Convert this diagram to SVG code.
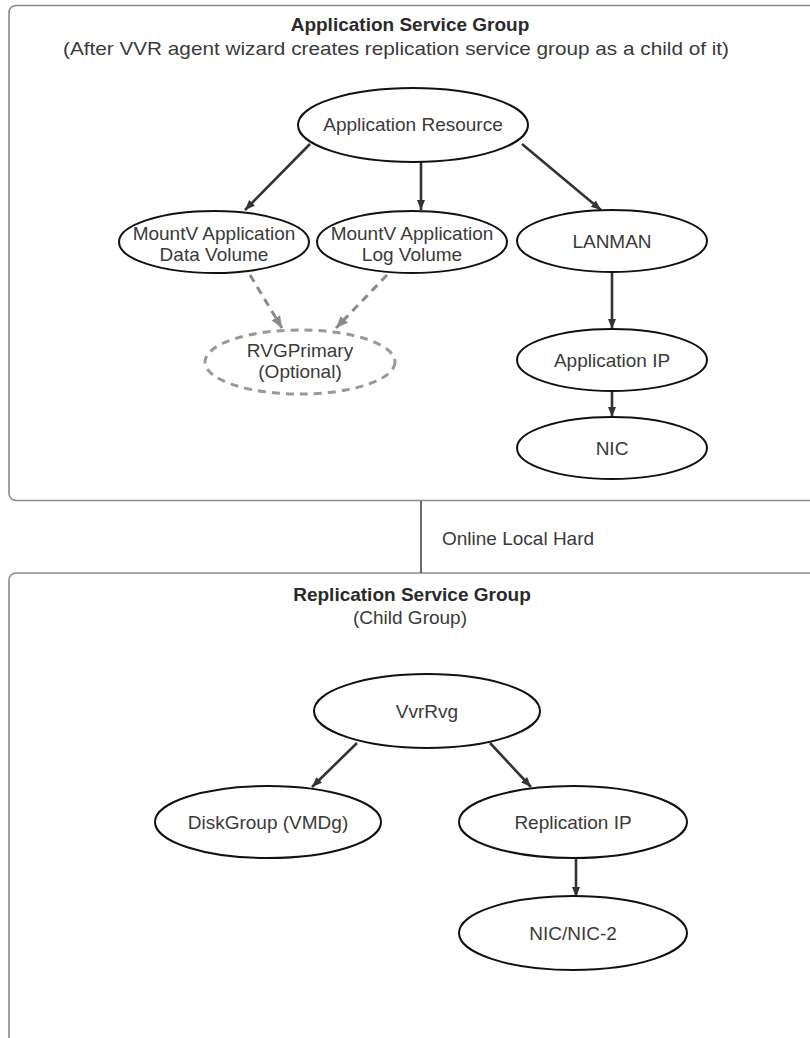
<svg xmlns="http://www.w3.org/2000/svg" width="810" height="1038" viewBox="0 0 810 1038">
<defs>
<marker id="ah" markerUnits="userSpaceOnUse" markerWidth="12" markerHeight="10" refX="10" refY="5" orient="auto">
<path d="M0,1 L10,5 L0,9 Z" fill="#333"/>
</marker>
<marker id="ahg" markerUnits="userSpaceOnUse" markerWidth="14" markerHeight="12" refX="12" refY="6" orient="auto">
<path d="M0,1 L12,6 L0,11 Z" fill="#8a8a8a"/>
</marker>
</defs>
<style>
.box{fill:#fff;stroke:#8a8a8a;stroke-width:1.6}
.node{fill:#fff;stroke:#111;stroke-width:2}
.opt{fill:#fff;stroke:#999;stroke-width:3;stroke-dasharray:8 6}
.t{font-family:"Liberation Sans",Arial,sans-serif;font-size:19px;fill:#3a3a3a;text-anchor:middle}
.b{font-weight:bold;fill:#2a2a2a}
.e{stroke:#333;stroke-width:2.6;fill:none}
.d{stroke:#8a8a8a;stroke-width:3;fill:none;stroke-dasharray:8 6}
</style>
<rect width="810" height="1038" fill="#fff"/>
<g id="app-group">
<rect class="box" x="9" y="5.5" width="810" height="495" rx="7"/>
<text class="t b" x="410" y="31">Application Service Group</text>
<text class="t" x="396" y="55" textLength="666" lengthAdjust="spacingAndGlyphs">(After VVR agent wizard creates replication service group as a child of it)</text>
</g>
<g id="rep-group">
<rect class="box" x="9" y="573" width="810" height="480" rx="7"/>
<text class="t b" x="412" y="601">Replication Service Group</text>
<text class="t" x="410" y="624">(Child Group)</text>
</g>
<g id="connectors">
<line x1="421" y1="501" x2="421" y2="573" stroke="#444" stroke-width="1.6"/>
<text class="t" x="442" y="545" style="text-anchor:start">Online Local Hard</text>
<line class="e" x1="310" y1="144" x2="245" y2="210" marker-end="url(#ah)"/>
<line class="e" x1="421" y1="162" x2="421" y2="210" marker-end="url(#ah)"/>
<line class="e" x1="522" y1="144" x2="601" y2="210" marker-end="url(#ah)"/>
<line class="d" x1="250" y1="275" x2="282" y2="328" marker-end="url(#ahg)"/>
<line class="d" x1="387" y1="275" x2="336" y2="328" marker-end="url(#ahg)"/>
<line class="e" x1="612" y1="272" x2="612" y2="329" marker-end="url(#ah)"/>
<line class="e" x1="612" y1="391" x2="612" y2="417" marker-end="url(#ah)"/>
<line class="e" x1="357" y1="743" x2="312" y2="787" marker-end="url(#ah)"/>
<line class="e" x1="490" y1="743" x2="531" y2="787" marker-end="url(#ah)"/>
<line class="e" x1="576" y1="859" x2="576" y2="897" marker-end="url(#ah)"/>
</g>
<g id="app-resource">
<ellipse class="node" cx="413" cy="125" rx="115" ry="37"/>
<text class="t" x="413" y="131">Application Resource</text>
</g>
<g id="mountv-data">
<ellipse class="node" cx="214" cy="242" rx="95" ry="31"/>
<text class="t" x="214" y="240">MountV Application</text>
<text class="t" x="214" y="261">Data Volume</text>
</g>
<g id="mountv-log">
<ellipse class="node" cx="412" cy="242" rx="95" ry="31"/>
<text class="t" x="412" y="240">MountV Application</text>
<text class="t" x="412" y="261">Log Volume</text>
</g>
<g id="rvgprimary">
<ellipse class="opt" cx="300" cy="362" rx="95" ry="32"/>
<text class="t" x="300" y="357">RVGPrimary</text>
<text class="t" x="300" y="378">(Optional)</text>
</g>
<g id="lanman">
<ellipse class="node" cx="612" cy="241" rx="95" ry="31"/>
<text class="t" x="612" y="248">LANMAN</text>
</g>
<g id="app-ip">
<ellipse class="node" cx="612" cy="360" rx="95" ry="31"/>
<text class="t" x="612" y="367">Application IP</text>
</g>
<g id="nic">
<ellipse class="node" cx="612" cy="448" rx="95" ry="31"/>
<text class="t" x="612" y="455">NIC</text>
</g>
<g id="vvrrvg">
<ellipse class="node" cx="427" cy="711" rx="113" ry="37"/>
<text class="t" x="427" y="718">VvrRvg</text>
</g>
<g id="diskgroup">
<ellipse class="node" cx="268" cy="822" rx="113" ry="36"/>
<text class="t" x="268" y="829">DiskGroup (VMDg)</text>
</g>
<g id="replication-ip">
<ellipse class="node" cx="573" cy="822" rx="114" ry="36"/>
<text class="t" x="573" y="829">Replication IP</text>
</g>
<g id="nic2">
<ellipse class="node" cx="573" cy="933" rx="114" ry="37"/>
<text class="t" x="573" y="940">NIC/NIC-2</text>
</g>
</svg>
